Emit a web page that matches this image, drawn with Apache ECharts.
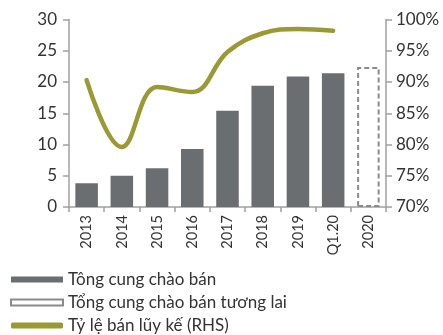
<!DOCTYPE html>
<html><head><meta charset="utf-8">
<script src="https://cdn.jsdelivr.net/npm/echarts@6/dist/echarts.min.js"></script>
<style>html,body{margin:0;padding:0;background:#fff}#c{width:443px;height:335px}</style>
</head><body><div id="c"></div>
<script>
const categories = ['2013','2014','2015','2016','2017','2018','2019','Q1.20','2020'];
const supply = [3.8, 5.0, 6.2, 9.3, 15.4, 19.4, 20.9, 21.4, null];
const futureSupply = [null, null, null, null, null, null, null, null, 22.4];
const soldRate = [90.3, 79.6, 89.2, 88.4, 94.8, 97.8, 98.5, 98.2, null];
const leftTicks = [0, 5, 10, 15, 20, 25, 30];
const rightTicks = [70, 75, 80, 85, 90, 95, 100];

const font = 'Lato';
const chart = echarts.init(document.getElementById('c'));
chart.setOption({
  animation: false,
  textStyle: {fontFamily: font},
  grid: {left: 69, right: 57, top: 19.5, bottom: 128},
  legend: {
    orient: 'vertical', left: 10, top: 271, padding: 0, itemWidth: 52, itemHeight: 6, itemGap: 6,
    textStyle: {fontFamily: font, fontSize: 17, color: '#333'},
    data: [
      {name: 'Tông cung chào bán', icon: 'rect'},
      {name: 'Tổng cung chào bán tương lai', icon: 'rect'},
      {name: 'Tỷ lệ bán lũy kế (RHS)', icon: 'roundRect', itemStyle: {color: '#999a35'}}
    ]
  },
  xAxis: {
    type: 'category', data: categories,
    axisLine: {lineStyle: {color: '#a0a0a0', width: 1.5}},
    axisTick: {show: true, length: 5, lineStyle: {color: '#a0a0a0', width: 1.5}},
    axisLabel: {rotate: 90, fontSize: 14.5, color: '#333', margin: 8, fontFamily: font}
  },
  yAxis: [
    {
      type: 'value', min: 0, max: 30, interval: 5,
      axisLine: {show: true, lineStyle: {color: '#a0a0a0', width: 1.5}},
      axisTick: {show: true, length: 6, lineStyle: {color: '#a0a0a0', width: 1.5}},
      splitLine: {show: false},
      axisLabel: {fontSize: 17, color: '#333', margin: 12, fontFamily: font,
        formatter: v => leftTicks.includes(v) ? String(v) : ''}
    },
    {
      type: 'value', min: 70, max: 100, interval: 5, position: 'right',
      axisLine: {show: true, lineStyle: {color: '#a0a0a0', width: 1.5}},
      axisTick: {show: true, length: 6, lineStyle: {color: '#a0a0a0', width: 1.5}},
      splitLine: {show: false},
      axisLabel: {fontSize: 17, color: '#333', margin: 10, fontFamily: font,
        formatter: v => rightTicks.includes(v) ? v + '%' : ''}
    }
  ],
  series: [
    {
      name: 'Tông cung chào bán', type: 'bar', data: supply, barWidth: '64%',
      itemStyle: {color: '#6b6e70'}
    },
    {
      name: 'Tổng cung chào bán tương lai', type: 'bar', data: futureSupply, barWidth: '64%', barGap: '-100%',
      itemStyle: {color: 'rgba(255,255,255,0)', borderColor: '#8a8a8a', borderWidth: 2, borderType: [5, 3]}
    },
    {
      name: 'Tỷ lệ bán lũy kế (RHS)', type: 'line', yAxisIndex: 1, data: soldRate, smooth: 0.4,
      symbol: 'none', lineStyle: {color: '#999a35', width: 4.5, cap: 'round'}, itemStyle: {color: '#999a35'}
    }
  ]
});
</script></body></html>
